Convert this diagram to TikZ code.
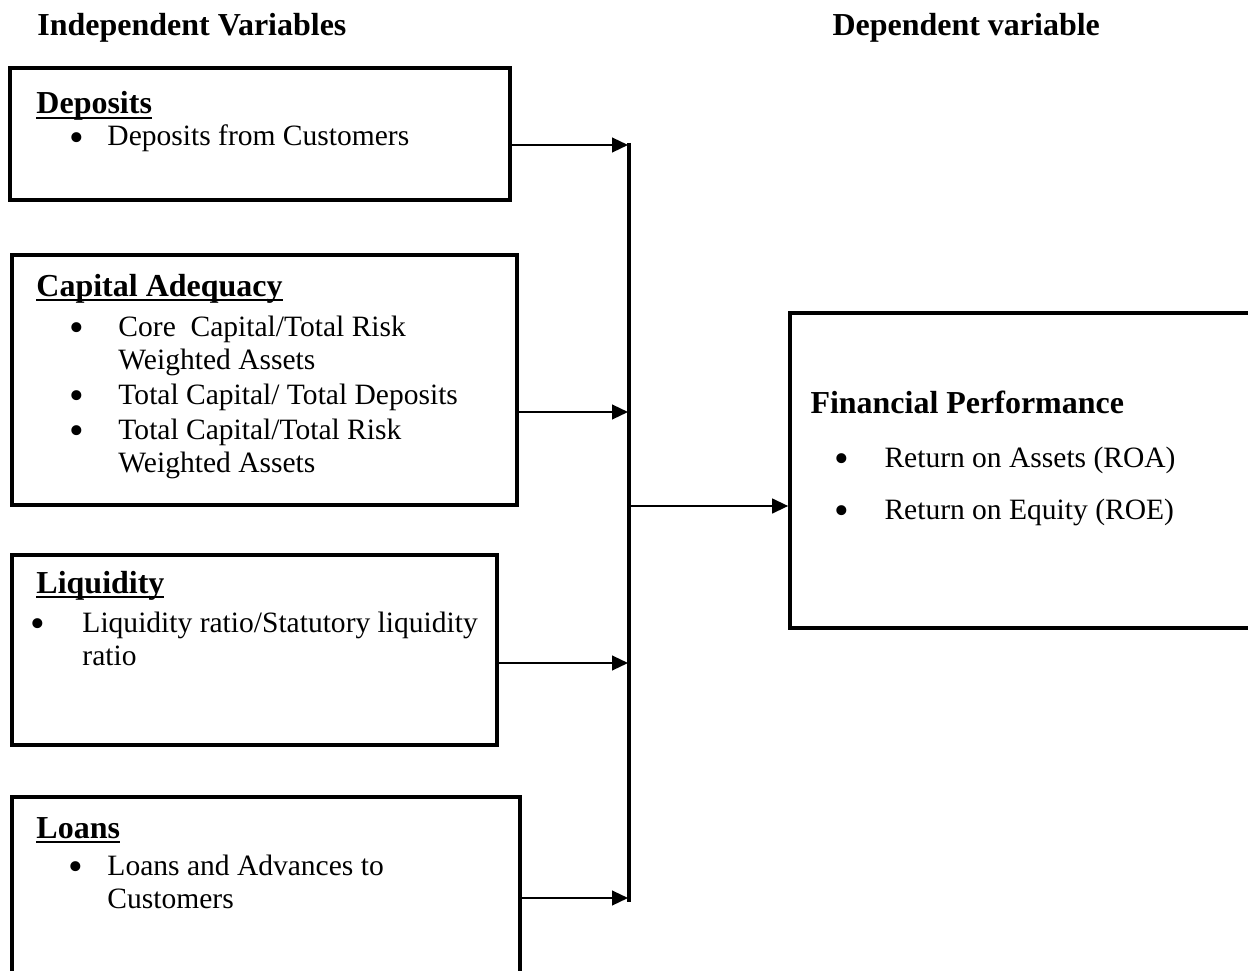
\documentclass[tikz,border=0pt]{standalone}
\usepackage{fontspec}
\setmainfont{Liberation Serif}
\usetikzlibrary{arrows.meta, positioning, fit}

\tikzset{
  box/.style={draw, line width=1.5pt, inner sep=0pt},
  head/.style={anchor=base west, inner sep=0pt, font=\fontsize{13}{15}\selectfont\bfseries},
  line/.style={anchor=base west, inner sep=0pt, font=\fontsize{12}{14}\selectfont},
  dot/.style={anchor=center, inner sep=0pt, font=\fontsize{17}{17}\selectfont},
  feed/.style={-{Triangle[length=6.5pt,width=6pt]}, line width=0.8pt},
}
\newlength{\ulw}
\newcommand{\ulhead}[1]{\settowidth{\ulw}{#1}\rlap{\rule[-2.2pt]{\ulw}{0.8pt}}#1}

\begin{document}
\begin{tikzpicture}[x=0.4065pt, y=-0.4065pt]
        \useasboundingbox (0,0) rectangle (1248,971);

        % Column titles
        \node[head] (indep) at (37,36) {Independent Variables};
        \node[head] (depvar) at (832,36) {Dependent variable};

        % Boxes
        \node[box, fit={(10,68) (510,200)}] (dep) {};
        \node[box, fit={(12,255) (517,505)}] (cap) {};
        \node[box, fit={(12,555) (497,745)}] (liq) {};
        \node[box, fit={(12,797) (520,1000)}] (loan) {};
        \node[box, fit={(790,313) (1270,628)}] (perf) {};

        % Deposits
        \node[head] (dephead) at (36,114) {\ulhead{Deposits}};
        \node[dot] (depb1) at (77,142) {\textbullet};
        \node[line] (dep1) at (107,146) {Deposits from Customers};

        % Capital Adequacy
        \node[head] (caphead) at (36,296) {\ulhead{Capital Adequacy}};
        \node[dot] (capb1) at (77,332) {\textbullet};
        \node[line] (cap1) at (118,336) {Core\ \ Capital/Total Risk};
        \node[line] (cap2) at (118,369) {Weighted Assets};
        \node[dot] (capb2) at (77,400) {\textbullet};
        \node[line] (cap3) at (118,404) {Total Capital/ Total Deposits};
        \node[dot] (capb3) at (77,435) {\textbullet};
        \node[line] (cap4) at (118,439) {Total Capital/Total Risk};
        \node[line] (cap5) at (118,472) {Weighted Assets};

        % Liquidity
        \node[head] (liqhead) at (36,593) {\ulhead{Liquidity}};
        \node[dot] (liqb1) at (38,628) {\textbullet};
        \node[line] (liq1) at (82,632) {Liquidity ratio/Statutory liquidity};
        \node[line] (liq2) at (82,665) {ratio};

        % Loans
        \node[head] (loanhead) at (36,838) {\ulhead{Loans}};
        \node[dot] (loanb1) at (76,871) {\textbullet};
        \node[line] (loan1) at (107,875) {Loans and Advances to};
        \node[line] (loan2) at (107,908) {Customers};

        % Financial Performance
        \node[head] (perfhead) at (810,413) {Financial Performance};
        \node[dot] (perfb1) at (842,463) {\textbullet};
        \node[line] (perf1) at (884,467) {Return on Assets (ROA)};
        \node[dot] (perfb2) at (842,515) {\textbullet};
        \node[line] (perf2) at (884,519) {Return on Equity (ROE)};

        % Collecting line
        \coordinate (bustop) at (629,143);
        \coordinate (busbot) at (629,902);
        \draw[line width=1.6pt] (bustop) -- (busbot);
        \coordinate (in1) at (628,145);
        \coordinate (in2) at (628,412);
        \coordinate (in3) at (628,663);
        \coordinate (in4) at (628,898);
        \coordinate (out) at (629,506);

        % Arrows
        \draw[feed] (in1 -| dep.east) -- (in1);
        \draw[feed] (in2 -| cap.east) -- (in2);
        \draw[feed] (in3 -| liq.east) -- (in3);
        \draw[feed] (in4 -| loan.east) -- (in4);
        \draw[feed] (out) -- (out -| perf.west);
    \end{tikzpicture}
\end{document}
